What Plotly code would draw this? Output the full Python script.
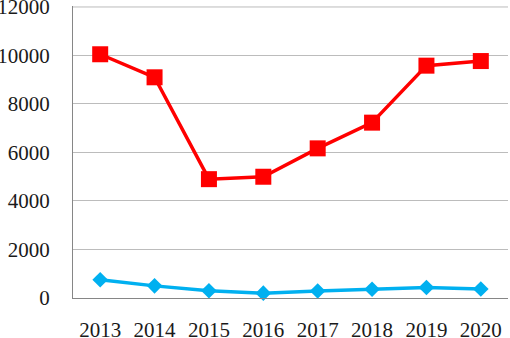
import plotly.graph_objects as go

years = ["2013", "2014", "2015", "2016", "2017", "2018", "2019", "2020"]
red_values = [10050, 9100, 4900, 5000, 6170, 7230, 9580, 9770]
blue_values = [750, 500, 300, 200, 290, 360, 430, 370]
y_ticks = [0, 2000, 4000, 6000, 8000, 10000, 12000]

fig = go.Figure()
fig.add_trace(go.Scatter(
    x=years, y=blue_values, mode="lines+markers",
    line=dict(color="#00b0f0", width=3.5),
    marker=dict(symbol="diamond", size=12, color="#00b0f0"),
    showlegend=False, cliponaxis=False,
))
fig.add_trace(go.Scatter(
    x=years, y=red_values, mode="lines+markers",
    line=dict(color="#ff0000", width=3.5),
    marker=dict(symbol="square", size=16, color="#ff0000"),
    showlegend=False, cliponaxis=False,
))
fig.add_hline(y=y_ticks[-1], line=dict(color="#bcbcbc", width=1), layer="below")

font = dict(family="Liberation Serif", size=21, color="#1a1a1a")
fig.update_layout(
    width=510, height=338,
    margin=dict(l=73, r=2, t=6, b=40, autoexpand=False),
    paper_bgcolor="white", plot_bgcolor="white",
    font=font,
    xaxis=dict(
        type="category", showgrid=False, showline=True, linecolor="#868686", linewidth=1,
        ticks="", ticklabelstandoff=13, tickfont=font, range=[-0.5, 7.5], automargin=False,
    ),
    yaxis=dict(
        range=[0, 12040], tickvals=y_ticks, ticktext=[str(v) for v in y_ticks],
        showgrid=True, gridcolor="#bcbcbc", gridwidth=1,
        showline=True, linecolor="#868686", linewidth=1, ticks="", ticklabelstandoff=18,
        tickfont=font, zeroline=False, automargin=False, ticklabeloverflow="allow",
    ),
)
fig.write_html(
    "out.html",
    config={"displayModeBar": False},
    post_script="document.body.style.margin='0';document.body.style.overflow='hidden';",
)
